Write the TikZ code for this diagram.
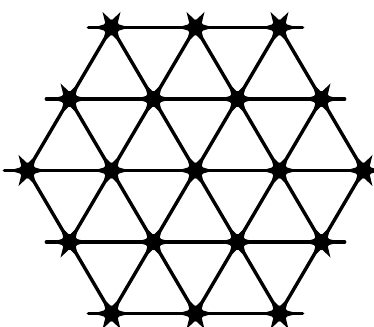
\documentclass[tikz,border=0pt]{standalone}
\usetikzlibrary{shapes.geometric}
\tikzset{
  latline/.style={line width=3.4pt, black, line cap=round},
  hline/.style={line width=3.8pt, black, line cap=round},
  starnode/.style={star, star points=6, star point ratio=2.6, minimum size=36pt,
    inner sep=0pt, fill=black, draw=none, shape border rotate=30},
}
\begin{document}
\begin{tikzpicture}[x=1pt,y=-1pt]
  \useasboundingbox[fill=white] (0,0) rectangle (374,326);
  % nodes
  \foreach \q in {-2,...,2}{\foreach \r in {-2,...,2}{
    \pgfmathtruncatemacro\s{abs(\q+\r)}
    \ifnum\s<3
      \pgfmathtruncatemacro\a{\q+2}\pgfmathtruncatemacro\b{\r+2}
      \node[starnode] (n\a\b) at ({195.5+84*(\q+0.5*\r)},{170.5+71.5*\r}) {};
      \fill (n\a\b.center) circle (8);
    \fi
  }}
  % edges
  \foreach \q in {-2,...,2}{\foreach \r in {-2,...,2}{
    \pgfmathtruncatemacro\s{abs(\q+\r)}
    \ifnum\s<3
      \pgfmathtruncatemacro\a{\q+2}\pgfmathtruncatemacro\b{\r+2}
      \pgfmathtruncatemacro\ap{\a+1}\pgfmathtruncatemacro\am{\a-1}
      \pgfmathtruncatemacro\bp{\b+1}
      \pgfmathtruncatemacro\okr{(\q<2)&&(abs(\q+1+\r)<3)}
      \pgfmathtruncatemacro\okdr{(\r<2)&&(abs(\q+\r+1)<3)}
      \pgfmathtruncatemacro\okdl{(\r<2)&&(\q>-2)}
      \pgfmathtruncatemacro\isl{(\q==-2)||(\q+\r<-1)}
      \pgfmathtruncatemacro\isr{(\q==2)||(\q+\r>1)}
      \ifnum\okr=1 \draw[hline] (n\a\b.center) -- (n\ap\b.center); \fi
      \ifnum\okdr=1 \draw[latline] (n\a\b.center) -- (n\a\bp.center); \fi
      \ifnum\okdl=1 \draw[latline] (n\a\b.center) -- (n\am\bp.center); \fi
      \ifnum\isl=1
        \path (n\a\b.center) ++(-23,0) coordinate (L\b);
        \draw[hline] (n\a\b.center) -- (L\b);
      \fi
      \ifnum\isr=1
        \path (n\a\b.center) ++(23,0) coordinate (R\b);
        \draw[hline] (n\a\b.center) -- (R\b);
      \fi
    \fi
  }}
\end{tikzpicture}
\end{document}
